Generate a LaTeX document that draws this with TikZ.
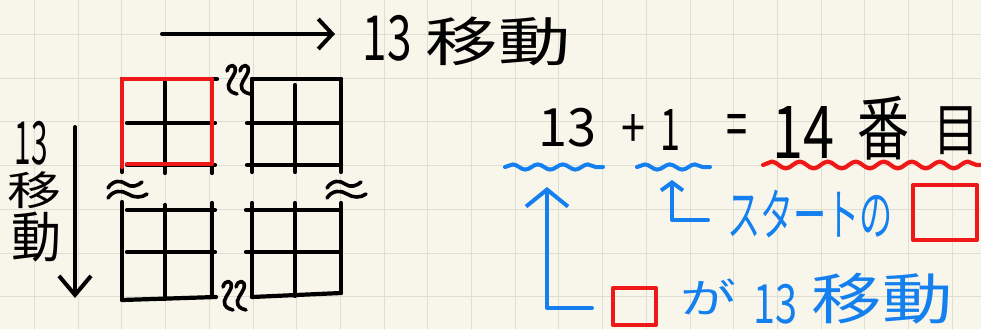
\documentclass[tikz,border=0pt]{standalone}
\usepackage{fontspec}
\setmainfont{Noto Sans CJK JP}
\usetikzlibrary{arrows.meta,decorations.pathmorphing}
\definecolor{paper}{RGB}{248,246,235}
\definecolor{gridc}{RGB}{221,222,212}
\definecolor{pred}{RGB}{238,24,24}
\definecolor{pblue}{RGB}{20,128,240}
\newcommand\fitt[3]{\resizebox*{#1pt}{#2pt}{#3}}
\begin{document}
\begin{tikzpicture}[x=1pt,y=-1pt, line cap=round, line join=round,
  ink/.style={line width=4.2pt,black},
  redink/.style={line width=4.2pt,pred},
  blueink/.style={line width=4pt,pblue},
  brk/.style={line width=3.6pt,black},
  txt/.style={inner sep=0pt,outer sep=0pt,anchor=center},
  sq/.style={draw=pred,line width=4pt,inner sep=0pt,fill=none},
  wavyb/.style={blueink,decorate,decoration={snake,segment length=25pt,amplitude=2.6pt}},
  wavyr/.style={redink,decorate,decoration={snake,segment length=28pt,amplitude=3.4pt}}]
\useasboundingbox (0,0) rectangle (981,329);
\fill[paper] (0,0) rectangle (981,329);
\foreach \k in {0,...,22} \draw[gridc,line width=1pt] ({34.5+43.7*\k},0) -- ({34.5+43.7*\k},329);
\foreach \k in {0,...,6} \draw[gridc,line width=1pt] (0,{34.5+43.7*\k}) -- (981,{34.5+43.7*\k});

% top-left grid
\draw[ink] (122,79) -- (122,172);
\draw[ink] (165,82) -- (165,173);
\draw[ink] (212,79) -- (212,173);
\draw[ink] (122,79) -- (217,79);
\draw[ink] (127,123) -- (215,123);
\draw[ink] (127,165) -- (215,165);
\draw[redink] (127,164) -- (212,164) -- (212,79) -- (122,79) -- (122,167);
% top-right grid
\draw[ink] (252,79) -- (252,172);
\draw[ink] (295,85) -- (295,172);
\draw[ink] (341,79) -- (341,172);
\draw[ink] (252,79) -- (341,79);
\draw[ink] (247,123) -- (341,123);
\draw[ink] (247,165) -- (341,165);
% bottom-left grid
\draw[ink] (122,202) -- (122,300);
\draw[ink] (165,205) -- (165,299);
\draw[ink] (212,203) -- (212,297);
\draw[ink] (127,210) -- (215,210);
\draw[ink] (127,252) -- (215,252);
\draw[ink] (122,300) -- (216,297);
% bottom-right grid
\draw[ink] (252,203) -- (252,297);
\draw[ink] (295,203) -- (295,296);
\draw[ink] (341,203) -- (341,293);
\draw[ink] (246,210) -- (339,210);
\draw[ink] (246,252) -- (339,252);
\draw[ink] (252,297) -- (341,293);

% break marks (horizontal)
\foreach \sx in {0,219} {
  \draw[brk] (108+\sx,188) .. controls (113+\sx,180) and (121+\sx,180) .. (126+\sx,184) .. controls (131+\sx,188) and (138+\sx,186) .. (142+\sx,182);
  \draw[brk] (108+\sx,198) .. controls (113+\sx,190) and (122+\sx,190) .. (128+\sx,194) .. controls (134+\sx,198) and (142+\sx,198) .. (147+\sx,194);
}
% break marks (vertical)
\foreach \sx/\sy in {0/0,13/0,-4/216,9/216} {
  \draw[brk] (227+\sx,71+\sy) .. controls (229+\sx,63+\sy) and (237+\sx,64+\sy) .. (235+\sx,72+\sy) .. controls (233+\sx,78+\sy) and (226+\sx,84+\sy) .. (229+\sx,89+\sy) .. controls (231+\sx,93+\sy) and (235+\sx,93+\sy) .. (237+\sx,94+\sy);
}

% arrows
\coordinate (ta1) at (162,34); \coordinate (ta2) at (335,34);
\draw[ink,line width=4pt,-{Straight Barb[length=14pt,width=30pt]}] (ta1) -- (ta2);
\coordinate (la1) at (75,127); \coordinate (la2) at (75,298);
\draw[ink,line width=4pt,-{Straight Barb[length=19pt,width=32pt]}] (la1) -- (la2);

% texts
\node[txt] (topnum) at (387,38) {\fitt{49}{46}{13}};
\node[txt] (topkanji) at (498,41) {\fitt{145}{49}{移動}};
\node[txt] (lnum) at (31,143) {\fitt{33}{44}{13}};
\node[txt] (lk1) at (34,190) {\fitt{54}{37}{移}};
\node[txt] (lk2) at (36,237) {\fitt{50}{50}{動}};

\node[txt] (e13) at (567,128) {\fitt{58}{39}{13}};
\node[txt] (eplus) at (633,131) {\fitt{24}{33}{+}};
\node[txt] (eone) at (670,130) {\fitt{20}{41}{1}};
\node[txt] (eeq) at (737,131) {\fitt{21}{33}{=}};
\node[txt] (e14) at (803,132) {\fitt{62}{52}{14}};
\node[txt] (eban) at (883,128) {\fitt{52}{64}{番}};
\node[txt] (eme) at (956,131) {\fitt{46}{48}{目}};

\draw[wavyb] (505,167) -- (603,167);
\draw[wavyb] (637,167) -- (710,167);
\draw[wavyr] (763,165) -- (990,165);

\node[txt,pblue] (start) at (810,214) {\fitt{166}{48}{スタートの}};
\node[sq,minimum width=64pt,minimum height=55pt] (sq1) at (945,212.5) {};
\node[sq,minimum width=43pt,minimum height=37pt] (sq2) at (634.5,306.5) {};
\node[txt,pblue] (ga) at (708,297) {\fitt{56}{36}{が}};
\node[txt,pblue] (b13) at (775,304) {\fitt{44}{40}{13}};
\node[txt,pblue] (bk) at (882,299) {\fitt{141}{51}{移動}};

\coordinate (ba1) at (592,308); \coordinate (ba2) at (547,187);
\draw[blueink,-{Straight Barb[length=17pt,width=42pt]}] (ba1) -- (547,308) -- (ba2);
\coordinate (bb1) at (708,220); \coordinate (bb2) at (672,180);
\draw[blueink,-{Straight Barb[length=8pt,width=22pt]}] (bb1) -- (672,220) -- (bb2);
\end{tikzpicture}
\end{document}
